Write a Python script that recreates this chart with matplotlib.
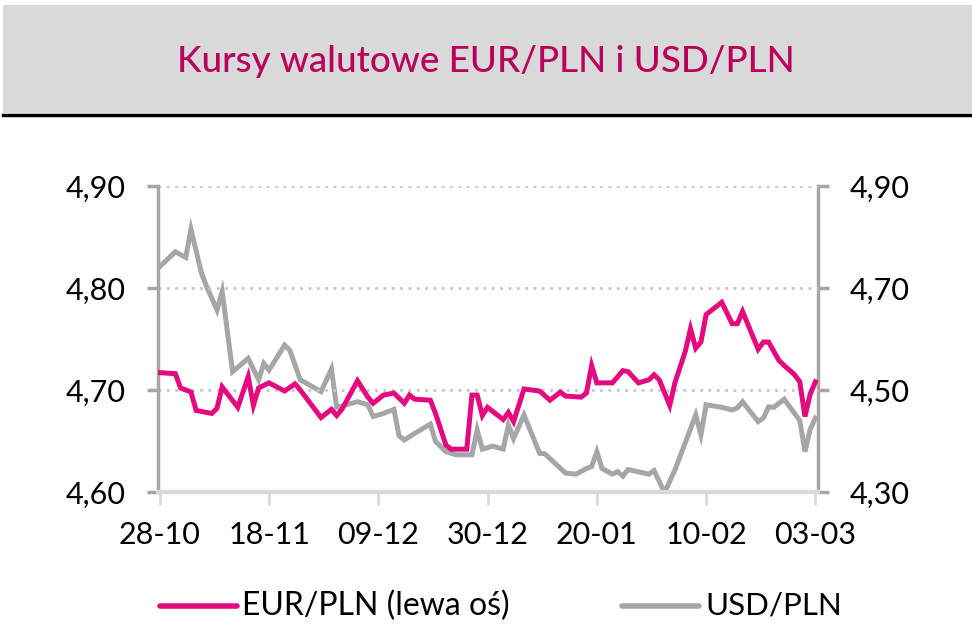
import pandas as pd
import matplotlib
matplotlib.use("Agg")
import matplotlib.pyplot as plt
import matplotlib.dates as mdates
from matplotlib.patches import Rectangle
from matplotlib.lines import Line2D

# day offsets counted from 28-10-2024 and rates
start = pd.Timestamp("2024-10-28")

eur_days = [0, 3, 4, 6, 7, 10, 11, 12, 15, 17, 18, 19, 21, 24, 26, 27, 31, 33, 34, 35,
            38, 40, 41, 43, 45, 47, 48, 49, 52, 53, 55, 56, 59, 60, 61, 62, 63, 66, 67, 68,
            70, 73, 75, 77, 78, 81, 82, 83, 84, 87, 89, 90, 92, 94, 95, 96, 98, 99, 101, 102,
            103, 104, 105, 106, 108, 110, 111, 112, 115, 116, 117, 119, 120, 122, 123, 124, 125, 126]
eur_pln = [4.717, 4.716, 4.702, 4.698, 4.680, 4.677, 4.682, 4.703, 4.683, 4.713, 4.685, 4.702,
           4.707, 4.699, 4.706, 4.700, 4.673, 4.681, 4.675, 4.681, 4.709, 4.693, 4.687, 4.695,
           4.697, 4.687, 4.695, 4.691, 4.690, 4.677, 4.646, 4.642, 4.642, 4.695, 4.695, 4.675,
           4.683, 4.671, 4.678, 4.669, 4.701, 4.699, 4.690, 4.698, 4.694, 4.693, 4.697, 4.724,
           4.707, 4.707, 4.719, 4.718, 4.707, 4.710, 4.715, 4.710, 4.685, 4.707, 4.738, 4.760,
           4.741, 4.747, 4.774, 4.778, 4.786, 4.765, 4.765, 4.777, 4.740, 4.747, 4.747, 4.729,
           4.724, 4.715, 4.708, 4.674, 4.696, 4.708]

usd_days = [0, 3, 5, 6, 8, 9, 11, 12, 14, 17, 19, 20, 21, 24, 25, 27, 31, 33, 34, 38,
            40, 41, 43, 45, 46, 47, 49, 52, 53, 55, 57, 60, 61, 62, 64, 66, 67, 68, 70, 73,
            74, 78, 80, 82, 83, 84, 85, 87, 88, 89, 90, 94, 95, 97, 99, 103, 104, 105, 108, 110,
            111, 112, 115, 116, 117, 118, 120, 123, 124, 125, 126]
usd_pln = [4.742, 4.771, 4.760, 4.815, 4.730, 4.703, 4.657, 4.693, 4.536, 4.562, 4.520, 4.552,
           4.539, 4.588, 4.578, 4.520, 4.497, 4.541, 4.466, 4.477, 4.471, 4.448, 4.454, 4.462,
           4.410, 4.402, 4.415, 4.433, 4.399, 4.379, 4.373, 4.373, 4.422, 4.384, 4.390, 4.384,
           4.431, 4.405, 4.451, 4.376, 4.375, 4.337, 4.335, 4.346, 4.350, 4.379, 4.346, 4.335,
           4.340, 4.331, 4.344, 4.335, 4.342, 4.299, 4.343, 4.451, 4.412, 4.471, 4.466, 4.461,
           4.465, 4.477, 4.438, 4.445, 4.467, 4.466, 4.482, 4.440, 4.379, 4.423, 4.445]

tick_dates = ["2024-10-28", "2024-11-18", "2024-12-09", "2024-12-30",
              "2025-01-20", "2025-02-10", "2025-03-03"]
left_ticks = [4.60, 4.70, 4.80, 4.90]
right_ticks = [4.30, 4.50, 4.70, 4.90]

title = "Kursy walutowe EUR/PLN i USD/PLN"
eur_label = "EUR/PLN (lewa oś)"
usd_label = "USD/PLN"

magenta = "#E5097F"
grey = "#A6A6A6"

plt.rcParams["font.family"] = ["Lato", "DejaVu Sans"]

eur_x = start + pd.to_timedelta(eur_days, unit="D")
usd_x = start + pd.to_timedelta(usd_days, unit="D")
ticks = pd.to_datetime(tick_dates)

fig = plt.figure(figsize=(9.72, 6.32), dpi=100)
W, H = 972, 632

# title band
fig.patches.append(Rectangle((3 / W, 1 - 113 / H), 969 / W, 108 / H,
                             transform=fig.transFigure, facecolor="#D9D9D9", edgecolor="none"))
fig.lines.append(Line2D([3 / W, 1], [1 - 115 / H, 1 - 115 / H],
                        transform=fig.transFigure, color="black", lw=2.5))
fig.text(0.5, 1 - 61 / H, title, ha="center", va="center", fontsize=26.5,
         color="#B8005C", fontweight="medium")

ax = fig.add_axes([158 / W, 1 - 492 / H, 660 / W, 306 / H])
ax2 = ax.twinx()

ax2.plot(usd_x, usd_pln, color=grey, lw=3.6, solid_joinstyle="miter", zorder=2)
ax.plot(eur_x, eur_pln, color=magenta, lw=3.6, solid_joinstyle="miter", zorder=3)

ax.set_zorder(ax2.get_zorder() + 1)
ax.patch.set_visible(False)

ax.set_ylim(4.60, 4.90)
ax2.set_ylim(4.30, 4.90)
ax.set_yticks(left_ticks)
ax2.set_yticks(right_ticks)
ax.set_yticklabels([f"{v:.2f}".replace(".", ",") for v in left_ticks])
ax2.set_yticklabels([f"{v:.2f}".replace(".", ",") for v in right_ticks])

ax.set_xlim(start - pd.Timedelta(hours=8), ticks[-1] + pd.Timedelta(hours=12))
ax.set_xticks(ticks)
ax.xaxis.set_major_formatter(mdates.DateFormatter("%d-%m"))

for v in left_ticks[1:]:
    ax.axhline(v, color="#C8C8C8", lw=2, ls=(0, (1, 2)), zorder=0)

for a in (ax, ax2):
    a.spines["top"].set_visible(False)
    a.spines["left"].set_color(grey)
    a.spines["right"].set_color(grey)
    a.spines["left"].set_linewidth(2.5)
    a.spines["right"].set_linewidth(2.5)
    a.spines["bottom"].set_color("#D9D9D9")
    a.spines["bottom"].set_linewidth(3)
    a.tick_params(axis="y", length=8, width=2.5, color=grey, labelsize=22, pad=15)
ax.tick_params(axis="x", length=9, width=2, color="#D9D9D9", labelsize=22, pad=12)
ax.spines["right"].set_visible(False)
ax2.spines["left"].set_visible(False)

# legend drawn by hand so the two entries sit where they do in the original
ly = 1 - 606 / H
fig.lines.append(Line2D([160 / W, 237 / W], [ly, ly], transform=fig.transFigure,
                        color=magenta, lw=4, solid_capstyle="round"))
fig.text(242 / W, ly, eur_label, ha="left", va="center", fontsize=23)
fig.lines.append(Line2D([622 / W, 699 / W], [ly, ly], transform=fig.transFigure,
                        color=grey, lw=4, solid_capstyle="round"))
fig.text(705 / W, ly, usd_label, ha="left", va="center", fontsize=22.5)

fig.savefig("out.png", dpi=100)
